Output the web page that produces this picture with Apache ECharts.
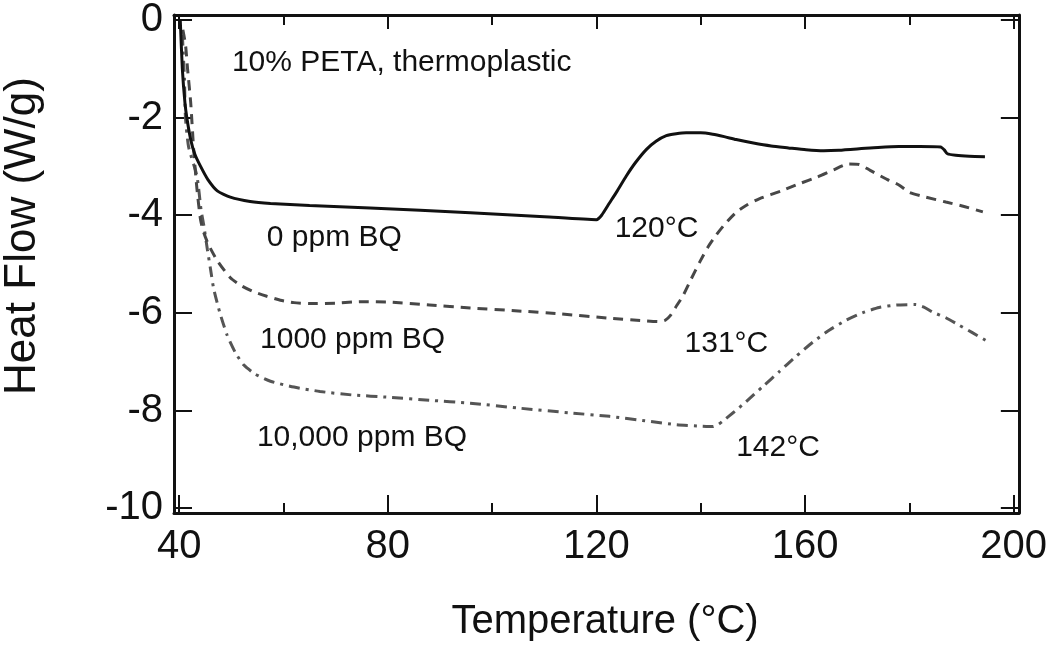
<!DOCTYPE html>
<html>
<head>
<meta charset="utf-8">
<script src="https://cdn.jsdelivr.net/npm/echarts@6/dist/echarts.min.js"></script>
<style>
html,body{margin:0;padding:0;background:#fff;}
#chart{width:1050px;height:647px;}
</style>
</head>
<body>
<div id="chart"></div>
<script>
// ---- data ----
const xMin = 39, xMax = 201, yMin = -10.1, yMax = 0.1;
const xTickLabels = [40, 80, 120, 160, 200];
const xMinorTicks = [60, 100, 140, 180];
const yTickLabels = [-10, -8, -6, -4, -2, 0];

// 0 ppm BQ (solid)
const bq0 = [
  [40.2, 0.0], [40.6, -1.0], [41.1, -1.7], [41.5, -2.03], [42.2, -2.45], [43.0, -2.75],
  [44.1, -3.0], [45.5, -3.27], [47.3, -3.5], [49.8, -3.63], [53.6, -3.72], [57.5, -3.76],
  [65, -3.8], [76.6, -3.85], [95.8, -3.95], [110, -4.03], [120, -4.09], [121, -4.0],
  [122.5, -3.75], [124, -3.5], [125.7, -3.2], [127.5, -2.92], [129.6, -2.65], [131.5, -2.48],
  [133.4, -2.37], [135.3, -2.33], [137.2, -2.31], [140, -2.31], [142.3, -2.34], [144.5, -2.39],
  [146.8, -2.45], [150.1, -2.52], [153.5, -2.58], [156.8, -2.62], [160.2, -2.66], [163.6, -2.68],
  [166.5, -2.67], [170.4, -2.64], [174, -2.61], [178, -2.59], [182, -2.59], [186.0, -2.6],
  [186.7, -2.66], [187.3, -2.74], [188.9, -2.77], [191.5, -2.79], [194.5, -2.8]
];
// 1000 ppm BQ (dashed)
const bq1000 = [
  [40.7, -0.2], [41.2, -0.5], [41.6, -1.0], [42.2, -1.69], [42.8, -2.7], [43.4, -3.46],
  [44.1, -4.1], [44.7, -4.35], [45.6, -4.6], [47.3, -4.93], [49.8, -5.28], [52, -5.45],
  [54.3, -5.57], [56.8, -5.66], [59.4, -5.74], [62, -5.79], [65.1, -5.81], [70, -5.8],
  [75, -5.77], [80.4, -5.78], [88, -5.84], [95.8, -5.9], [105, -5.96], [113, -6.02],
  [122.5, -6.11], [129, -6.16], [132.1, -6.18], [133.2, -6.15], [134.2, -6.05], [135.4, -5.85],
  [136.6, -5.65], [138.2, -5.3], [139.8, -4.96], [141.4, -4.65], [143, -4.4], [144.8, -4.16],
  [146.8, -3.94], [149, -3.78], [151.3, -3.66], [155.5, -3.5], [159, -3.35], [162.3, -3.22],
  [165.5, -3.07], [168.3, -2.95], [170.4, -2.96], [172.5, -3.08], [175.8, -3.27], [178, -3.38],
  [180, -3.53], [183.2, -3.63], [187, -3.73], [190.5, -3.82], [194.1, -3.93]
];
// 10,000 ppm BQ (dash-dot)
const bq10000 = [
  [40.6, -0.3], [41.0, -1.2], [41.2, -2.0], [41.8, -2.6], [43.4, -3.2], [44.2, -3.9],
  [44.7, -4.2], [45.4, -4.7], [46.0, -5.1], [46.6, -5.5], [47.8, -6.0], [49.2, -6.46],
  [50.8, -6.82], [52.4, -7.07], [54.5, -7.25], [57.5, -7.4], [62, -7.52], [67, -7.61],
  [73, -7.68], [80.4, -7.73], [88, -7.79], [95.8, -7.85], [105, -7.95], [115, -8.05],
  [122.5, -8.12], [130, -8.22], [135.3, -8.29], [140, -8.32], [142.3, -8.33], [143.3, -8.29],
  [144.2, -8.22], [146.5, -8.02], [148.7, -7.82], [152, -7.5], [155.1, -7.2], [158.3, -6.89],
  [161.5, -6.6], [164.7, -6.35], [167.9, -6.15], [171, -6.0], [174.2, -5.89], [177.5, -5.84],
  [181.2, -5.83], [182.8, -5.88], [184.4, -5.98], [187, -6.1], [189.5, -6.25], [192, -6.4],
  [194.6, -6.56]
];
// annotations: [x, y, text] in data units (left edge, vertical middle)
const annotations = [
  [50.1, -0.88, '10% PETA, thermoplastic'],
  [56.8, -4.46, '0 ppm BQ'],
  [55.5, -6.56, '1000 ppm BQ'],
  [54.9, -8.56, '10,000 ppm BQ'],
  [123.5, -4.28, '120°C'],
  [136.9, -6.64, '131°C'],
  [146.8, -8.76, '142°C']
];
const xTitle = 'Temperature (°C)';
const yTitle = 'Heat Flow (W/g)';

// ---- chart ----
const FONT = "'Liberation Sans', Arial, Helvetica, sans-serif";
const INK = '#111';
const chart = echarts.init(document.getElementById('chart'), null, {renderer: 'canvas'});

function xAx(pos, ticks, len, labels, showLine) {
  return {
    type: 'value', position: pos, min: xMin, max: xMax, gridIndex: 0,
    axisLine: {show: showLine, onZero: false, lineStyle: {color: INK, width: 3}},
    axisTick: {show: true, inside: true, length: len, customValues: ticks, lineStyle: {color: INK, width: 2}},
    axisLabel: labels ? {show: true, customValues: ticks, fontSize: 40, color: INK, fontFamily: FONT, margin: 14} : {show: false},
    splitLine: {show: false}
  };
}
function yAx(pos, len, labels) {
  return {
    type: 'value', position: pos, min: yMin, max: yMax, gridIndex: 0,
    axisLine: {show: true, onZero: false, lineStyle: {color: INK, width: 3}},
    axisTick: {show: true, inside: true, length: len, customValues: yTickLabels, lineStyle: {color: INK, width: 2}},
    axisLabel: labels ? {show: true, customValues: yTickLabels, fontSize: 40, color: INK, fontFamily: FONT, margin: 11} : {show: false},
    splitLine: {show: false}
  };
}

const option = {
  animation: false,
  backgroundColor: '#fff',
  grid: {left: 174, top: 12, right: 30, bottom: 134, containLabel: false},
  xAxis: [
    xAx('bottom', xTickLabels, 18, true, true),
    xAx('top', xTickLabels, 14, false, true),
    xAx('bottom', xMinorTicks, 10, false, false),
    xAx('top', xMinorTicks, 10, false, false)
  ],
  yAxis: [
    yAx('left', 18, true),
    yAx('right', 18, false)
  ],
  graphic: [
    {type: 'text', x: 605, y: 622, style: {text: xTitle, font: "40px " + FONT, fill: INK, textAlign: 'center', textVerticalAlign: 'middle'}},
    {type: 'text', x: 23, y: 236, rotation: Math.PI / 2, style: {text: yTitle, font: "44px " + FONT, fill: INK, textAlign: 'center', textVerticalAlign: 'middle'}}
  ],
  series: [
    {type: 'line', name: '10,000 ppm BQ', data: bq10000, showSymbol: false, smooth: 0.2,
     lineStyle: {color: '#555', width: 3, type: [11, 6, 3, 6]}},
    {type: 'line', name: '1000 ppm BQ', data: bq1000, showSymbol: false, smooth: 0.2,
     lineStyle: {color: '#474747', width: 3, type: [10, 7]}},
    {type: 'line', name: '0 ppm BQ', data: bq0, showSymbol: false, smooth: 0.2,
     lineStyle: {color: INK, width: 3, type: 'solid'}},
    {type: 'scatter', name: 'notes', data: annotations, symbolSize: 0, silent: true,
     itemStyle: {opacity: 1},
     label: {show: true, position: 'right', distance: 0, formatter: p => p.data[2],
             fontSize: 30, color: INK, opacity: 1, fontFamily: FONT, align: 'left', verticalAlign: 'middle'}}
  ]
};
chart.setOption(option);
</script>
</body>
</html>
